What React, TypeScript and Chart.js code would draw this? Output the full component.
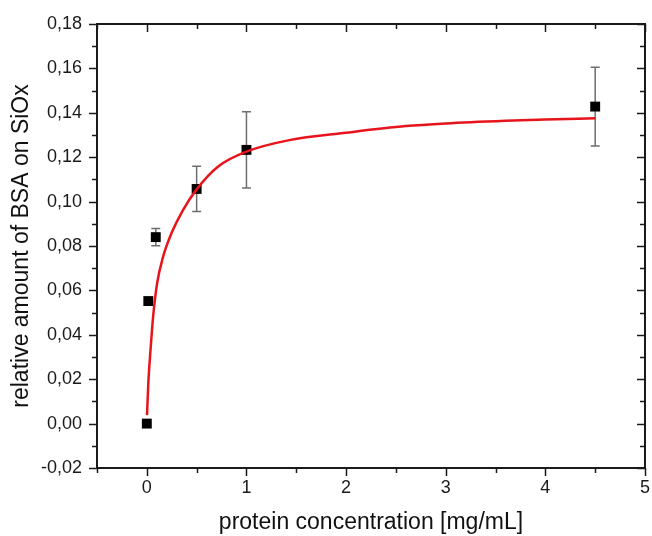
import React, { useEffect, useRef } from 'react';
import { Chart, registerables } from 'chart.js';

Chart.register(...registerables);

// Measured data points (protein concentration in mg/mL vs relative amount)
const concentrations = [0, 0.015, 0.09, 0.5, 1.0, 4.5];
const amounts = [0.0, 0.0552, 0.084, 0.1057, 0.1233, 0.1428];
const amountErrors = [0, 0, 0.0039, 0.0102, 0.0172, 0.0177];

// Fitted curve
const fitX = [0.002, 0.015, 0.037, 0.063, 0.103, 0.163, 0.247, 0.363, 0.5, 0.713, 1.0, 1.43, 2.0, 2.6, 3.0, 3.6, 4.0, 4.5];
const fitY = [0.0038, 0.0181, 0.0331, 0.0481, 0.0631, 0.0751, 0.0857, 0.0962, 0.1055, 0.1157, 0.1225, 0.1277, 0.131, 0.134, 0.1352, 0.1364, 0.137, 0.1375];

// Axis ticks
const xTicks = [0, 1, 2, 3, 4, 5];
const xMinorTicks = [-0.5, 0.5, 1.5, 2.5, 3.5, 4.5];
const yTicks = [-0.02, 0, 0.02, 0.04, 0.06, 0.08, 0.1, 0.12, 0.14, 0.16, 0.18];
const yMinorTicks = [-0.01, 0.01, 0.03, 0.05, 0.07, 0.09, 0.11, 0.13, 0.15, 0.17];

const xTitle = 'protein concentration [mg/mL]';
const yTitle = 'relative amount of BSA on SiOx';

const FONT = '"Liberation Sans", Arial, Helvetica, sans-serif';

const framePlugin = {
  id: 'frameAndErrors',
  beforeDatasetsDraw(chart: any) {
    const ctx = chart.ctx;
    const xs = chart.scales.x;
    const ys = chart.scales.y;
    ctx.save();
    ctx.strokeStyle = '#6e6e6e';
    ctx.lineWidth = 1.5;
    for (let i = 0; i < concentrations.length; i++) {
      const e = amountErrors[i];
      if (!e) continue;
      const px = xs.getPixelForValue(concentrations[i]);
      const top = ys.getPixelForValue(amounts[i] + e);
      const bot = ys.getPixelForValue(amounts[i] - e);
      ctx.beginPath();
      ctx.moveTo(px, top);
      ctx.lineTo(px, bot);
      ctx.moveTo(px - 4.5, top);
      ctx.lineTo(px + 4.5, top);
      ctx.moveTo(px - 4.5, bot);
      ctx.lineTo(px + 4.5, bot);
      ctx.stroke();
    }
    ctx.restore();
  },
  afterDatasetsDraw(chart: any) {
    const ctx = chart.ctx;
    const xs = chart.scales.x;
    const ys = chart.scales.y;
    const { left, right, top, bottom } = chart.chartArea;
    ctx.save();
    ctx.strokeStyle = '#1a1a1a';
    ctx.lineWidth = 2;
    ctx.strokeRect(left, top, right - left, bottom - top);
    ctx.lineWidth = 1.5;
    ctx.beginPath();
    const majorLen = 8;
    const minorLen = 5;
    for (const v of xTicks) {
      const px = Math.round(xs.getPixelForValue(v)) + 0.5;
      ctx.moveTo(px, bottom);
      ctx.lineTo(px, bottom + majorLen);
      ctx.moveTo(px, top);
      ctx.lineTo(px, top + majorLen);
    }
    for (const v of xMinorTicks) {
      const px = Math.round(xs.getPixelForValue(v)) + 0.5;
      ctx.moveTo(px, bottom);
      ctx.lineTo(px, bottom + minorLen);
      ctx.moveTo(px, top);
      ctx.lineTo(px, top + minorLen);
    }
    for (const v of yTicks) {
      const py = Math.round(ys.getPixelForValue(v)) + 0.5;
      ctx.moveTo(left, py);
      ctx.lineTo(left - majorLen, py);
      ctx.moveTo(right, py);
      ctx.lineTo(right - majorLen, py);
    }
    for (const v of yMinorTicks) {
      const py = Math.round(ys.getPixelForValue(v)) + 0.5;
      ctx.moveTo(left, py);
      ctx.lineTo(left - minorLen, py);
      ctx.moveTo(right, py);
      ctx.lineTo(right - minorLen, py);
    }
    ctx.stroke();
    ctx.restore();
  },
};

export default function App() {
  const canvasRef = useRef<HTMLCanvasElement | null>(null);

  useEffect(() => {
    document.body.style.margin = '0';
    const canvas = canvasRef.current;
    if (!canvas) return;

    const chart = new Chart(canvas, {
      type: 'scatter',
      data: {
        datasets: [
          {
            label: 'fit',
            data: fitX.map((x, i) => ({ x, y: fitY[i] })),
            showLine: true,
            borderColor: '#e8141b',
            borderWidth: 2.5,
            pointRadius: 0,
            cubicInterpolationMode: 'monotone',
            order: 0,
          } as any,
          {
            label: 'data',
            data: concentrations.map((x, i) => ({ x, y: amounts[i] })),
            pointStyle: 'rect',
            pointRadius: 7,
            pointBorderWidth: 0,
            backgroundColor: '#000000',
            borderColor: '#000000',
            order: 1,
          } as any,
        ],
      },
      options: {
        animation: false,
        responsive: false,
        devicePixelRatio: 1,
        layout: { padding: { top: 24, right: 5, left: 0, bottom: 0 } },
        plugins: {
          legend: { display: false },
          tooltip: { enabled: false },
        },
        scales: {
          x: {
            type: 'linear',
            min: -0.5,
            max: 5,
            grid: { display: false, drawTicks: false },
            border: { display: false },
            afterBuildTicks: (scale: any) => {
              scale.ticks = xTicks.map((v) => ({ value: v }));
            },
            afterFit: (scale: any) => {
              scale.height = 68;
              scale.paddingLeft = 0;
              scale.paddingRight = 0;
            },
            ticks: {
              padding: 9,
              color: '#1a1a1a',
              font: { family: FONT, size: 18 },
              maxRotation: 0,
              callback: (v: any) => String(v),
            },
            title: {
              display: true,
              text: xTitle,
              color: '#111111',
              font: { family: FONT, size: 23 },
              padding: { top: 0, bottom: 0 },
            },
          },
          y: {
            type: 'linear',
            min: -0.02,
            max: 0.18,
            grid: { display: false, drawTicks: false },
            border: { display: false },
            afterBuildTicks: (scale: any) => {
              scale.ticks = yTicks.map((v) => ({ value: v }));
            },
            afterFit: (scale: any) => {
              scale.width = 97;
              scale.paddingTop = 0;
              scale.paddingBottom = 0;
            },
            ticks: {
              padding: 15,
              color: '#1a1a1a',
              font: { family: FONT, size: 18 },
              callback: (v: any) => Number(v).toFixed(2).replace('.', ','),
            },
            title: {
              display: true,
              text: yTitle,
              color: '#111111',
              font: { family: FONT, size: 23 },
              padding: { top: 8, bottom: 0 },
            },
          },
        },
      },
      plugins: [framePlugin],
    });

    return () => {
      chart.destroy();
    };
  }, []);

  return (
    <div style={{ width: 652, height: 536, background: '#ffffff' }}>
      <canvas ref={canvasRef} width={652} height={536} style={{ display: 'block', width: 652, height: 536 }} />
    </div>
  );
}
